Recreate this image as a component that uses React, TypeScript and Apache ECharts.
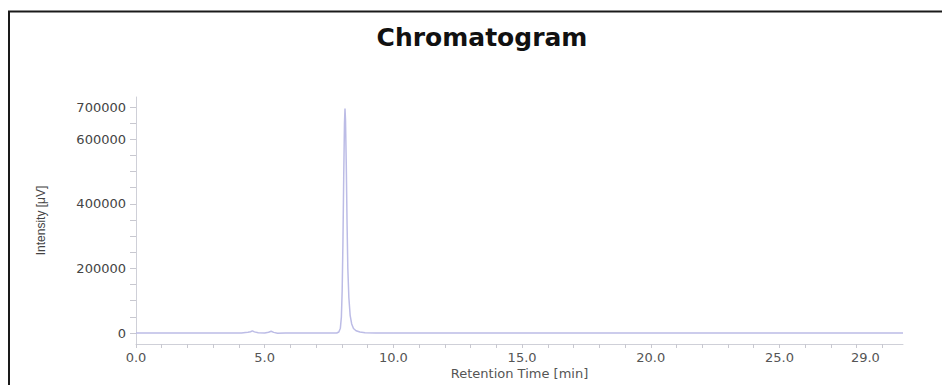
import React, { useEffect, useRef } from "react";
import * as echarts from "echarts";

const chartTitle = "Chromatogram";
const xAxisName = "Retention Time [min]";
const yAxisName = "Intensity [μV]";

const retentionTimes = [
  0.0, 2.0, 4.1, 4.25, 4.35, 4.45, 4.52, 4.6, 4.75, 5.0, 5.15, 5.25, 5.35, 5.5, 5.8,
  7.0, 7.8, 7.88, 7.94, 7.98, 8.01, 8.04, 8.07, 8.1, 8.12, 8.14, 8.17, 8.2, 8.23,
  8.27, 8.32, 8.38, 8.45, 8.55, 8.7, 8.9, 9.3, 10.0, 15.0, 20.0, 25.0, 29.8,
];
const intensities = [
  0, 0, 0, 1500, 2500, 4000, 6500, 3500, 800, 300, 2500, 5500, 2000, -500, 0,
  0, 0, 3000, 15000, 50000, 130000, 280000, 480000, 650000, 695000, 660000, 520000, 340000, 200000,
  110000, 55000, 28000, 14000, 7000, 3000, 1200, 300, 0, 0, 0, 0, 0,
];

const xTickValues = Array.from({ length: 30 }, (_, i) => i);
const xLabelValues = [0, 5, 10, 15, 20, 25, 29];
const yTickValues = Array.from({ length: 15 }, (_, i) => i * 50000);
const yLabelValues = [0, 200000, 400000, 600000, 700000];

export default function App() {
  const ref = useRef<HTMLDivElement>(null);

  useEffect(() => {
    if (!ref.current) return;
    const chart = echarts.init(ref.current, null, { renderer: "svg" });
    const data = retentionTimes.map((t, i) => [t, intensities[i]]);
    chart.setOption({
      animation: false,
      backgroundColor: "#ffffff",
      title: {
        text: chartTitle,
        left: 477,
        top: 20,
        textAlign: "center",
        textStyle: {
          fontFamily: "DejaVu Sans",
          fontWeight: "bold",
          fontSize: 25,
          color: "#111111",
        },
      },
      graphic: [
        {
          type: "rect",
          shape: { x: 9, y: 11.5, width: 1000, height: 500 },
          style: { fill: "none", stroke: "#1a1a1a", lineWidth: 2 },
          silent: true,
        },
      ],
      grid: {
        left: 136,
        right: 39,
        top: 97,
        bottom: 41,
        containLabel: false,
        outerBoundsMode: "none",
      },
      xAxis: {
        type: "value",
        min: 0,
        max: 29.8,
        name: xAxisName,
        nameLocation: "middle",
        nameGap: 23,
        nameMoveOverlap: false,
        nameTextStyle: { fontFamily: "DejaVu Sans", fontSize: 13, color: "#555555" },
        axisLine: { show: true, onZero: false, lineStyle: { color: "#cfd0d8", width: 1 } },
        axisTick: {
          show: true,
          length: 4,
          customValues: xTickValues,
          lineStyle: { color: "#c8c8d0" },
        },
        axisLabel: {
          customValues: xLabelValues,
          margin: 7,
          fontFamily: "DejaVu Sans",
          fontSize: 13,
          color: "#555555",
          formatter: (v: number) => (v === 29 ? "{e|" + v.toFixed(1) + "}" : v.toFixed(1)),
          rich: {
            e: {
              fontFamily: "DejaVu Sans",
              fontSize: 13,
              color: "#555555",
              padding: [0, 34, 0, 0],
            },
          },
        },
        splitLine: { show: false },
      },
      yAxis: {
        type: "value",
        min: -34000,
        max: 731000,
        name: yAxisName,
        nameLocation: "middle",
        nameGap: 89,
        nameRotate: 90,
        nameMoveOverlap: false,
        nameTextStyle: { fontFamily: "Liberation Sans", fontSize: 12, color: "#444444" },
        axisLine: { show: true, onZero: false, lineStyle: { color: "#cfd0d8", width: 1 } },
        axisTick: {
          show: true,
          length: 6,
          customValues: yTickValues,
          lineStyle: { color: "#c8c8d0" },
        },
        axisLabel: {
          customValues: yLabelValues,
          margin: 10,
          fontFamily: "DejaVu Sans",
          fontSize: 13,
          color: "#444444",
          formatter: (v: number) => String(v),
        },
        splitLine: { show: false },
      },
      series: [
        {
          type: "line",
          data,
          showSymbol: false,
          smooth: false,
          lineStyle: { color: "#bcbce6", width: 1.5 },
          itemStyle: { color: "#bcbce6" },
        },
      ],
    });
    return () => chart.dispose();
  }, []);

  return (
    <div
      ref={ref}
      style={{ position: "absolute", left: 0, top: 0, width: 942, height: 385 }}
    />
  );
}
